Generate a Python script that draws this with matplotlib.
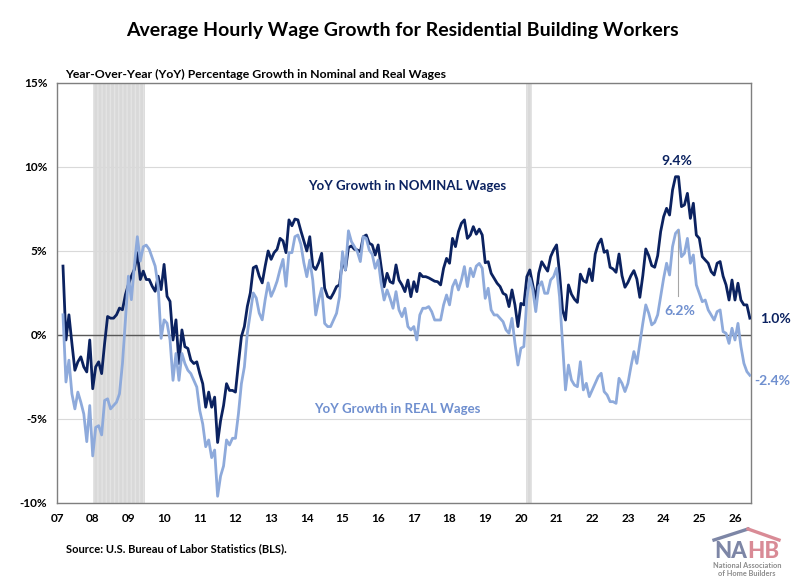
import numpy as np, matplotlib; matplotlib.use("Agg")
import matplotlib.pyplot as plt

plt.rcParams['font.family'] = ['Lato', 'DejaVu Sans']

# monthly YoY % growth, Mar 2007 .. Jun 2026
start_month = 2  # months after Jan 2007
nominal = [
    4.1, -0.3, 1.2, -0.5, -2.1, -1.6, -1.3, -1.9, -2.2, -0.3,                 # 2007 (Mar-Dec)
    -3.2, -1.9, -1.6, -2.3, -0.5, 1.1, 1.0, 1.0, 1.2, 1.6, 1.5, 2.4,          # 2008
    3.0, 3.5, 3.9, 4.9, 3.3, 3.8, 3.3, 3.3, 2.9, 2.6, 3.5, 2.7,               # 2009
    4.2, 2.3, 2.0, -0.3, 0.9, -1.7, 0.3, -0.7, -0.8, -1.5, -1.7, -1.6,        # 2010
    -2.3, -2.9, -4.3, -3.4, -4.3, -3.7, -6.4, -5.1, -4.2, -2.9, -3.3, -3.3,   # 2011
    -3.4, -1.7, -0.1, 0.5, 1.7, 2.5, 4.0, 4.1, 3.5, 3.1, 4.1, 5.0,            # 2012
    4.5, 4.9, 5.1, 5.75, 5.6, 4.9, 6.85, 6.5, 6.9, 6.85, 6.2, 5.6,            # 2013
    5.0, 5.85, 4.1, 3.9, 4.3, 4.86, 2.78, 2.28, 2.18, 2.5, 2.88, 2.98,        # 2014
    4.5, 3.87, 5.2, 5.3, 5.1, 5.06, 4.96, 5.85, 5.95, 5.46, 5.36, 4.76,       # 2015
    5.36, 4.07, 2.87, 3.67, 3.17, 3.08, 4.17, 3.27, 2.98, 2.58, 3.27, 2.28,   # 2016
    3.17, 2.58, 3.67, 3.47, 3.47, 3.4, 3.3, 3.2, 3.17, 2.98, 3.97, 4.56,      # 2017
    4.27, 5.75, 5.26, 6.15, 6.65, 6.85, 5.75, 5.95, 6.45, 6.0, 6.3, 5.95,     # 2018
    4.3, 4.36, 3.67, 3.37, 3.08, 2.88, 2.48, 2.38, 1.69, 2.68, 1.79, 0.5,     # 2019
    1.88, 1.79, 3.47, 3.87, 2.98, 2.08, 3.67, 4.36, 4.07, 3.8, 4.66, 5.06,    # 2020
    5.36, 3.67, 1.49, 0.89, 2.98, 2.43, 2.13, 1.94, 3.62, 3.23, 3.13, 3.93,   # 2021
    3.23, 4.82, 5.42, 5.71, 4.92, 5.02, 4.03, 3.93, 3.73, 4.82, 3.53, 2.84,   # 2022
    3.13, 3.53, 3.83, 3.33, 2.24, 3.53, 5.12, 4.72, 4.13, 4.03, 4.72, 6.15,   # 2023
    7.04, 7.54, 7.14, 8.63, 9.42, 9.42, 7.64, 7.74, 8.43, 6.94, 7.84, 5.95,   # 2024
    5.75, 4.66, 4.46, 4.27, 3.77, 3.57, 4.27, 4.37, 3.5, 2.98, 2.08, 3.27,    # 2025
    2.08, 3.08, 2.08, 1.79, 1.79, 1.0,                                        # 2026
]
real = [
    1.2, -2.8, -1.5, -3.5, -4.4, -3.4, -4.0, -4.7, -6.35, -4.2,
    -7.2, -5.5, -5.4, -5.95, -3.9, -3.8, -4.4, -4.2, -4.0, -3.5, -1.7, 0.9,
    3.5, 2.1, 4.1, 5.85, 4.4, 5.25, 5.35, 5.1, 4.6, 4.1, 2.9, -0.2,
    0.9, 0.7, -0.3, -2.7, -1.1, -2.7, -1.1, -1.7, -2.1, -2.3, -2.7, -3.1,
    -4.5, -5.3, -6.65, -6.25, -7.3, -6.85, -9.6, -8.4, -7.8, -6.25, -6.55, -6.15,
    -6.15, -4.7, -2.9, -1.9, 0.1, 1.3, 2.5, 2.2, 1.3, 0.9, 2.1, 3.1,
    2.3, 2.7, 3.2, 3.9, 4.5, 2.9, 4.9, 4.9, 5.85, 5.95, 5.4, 4.3,
    3.47, 4.46, 3.27, 1.19, 2.08, 2.78, 0.69, 0.5, 0.5, 0.9, 1.29, 2.28,
    4.96, 3.87, 6.2, 5.56, 5.26, 4.96, 4.37, 5.85, 5.75, 5.06, 4.8, 3.97,
    4.46, 3.08, 2.08, 2.68, 2.18, 1.59, 2.58, 1.49, 1.09, 1.59, 0.5, 0.3,
    0.5, -0.3, 1.19, 1.59, 1.59, 1.69, 1.39, 0.89, 0.89, 0.89, 1.79, 2.38,
    1.79, 2.88, 3.27, 2.68, 3.27, 4.07, 2.88, 3.97, 3.47, 4.1, 4.26, 3.97,
    2.18, 2.78, 1.49, 1.19, 1.19, 0.99, 0.79, 0.3, 0.1, 0.99, -0.5, -1.79,
    -0.79, -0.69, 2.18, 3.37, 2.68, 1.39, 2.88, 3.17, 2.48, 2.48, 3.27, 3.47,
    3.97, 2.28, -0.5, -3.27, -1.79, -2.68, -2.98, -3.08, -1.59, -3.27, -2.88, -3.67,
    -3.27, -2.88, -2.48, -2.28, -3.37, -3.57, -3.97, -3.97, -4.07, -2.58, -2.88, -3.37,
    -2.88, -1.89, -0.99, -1.69, -0.5, 0.69, 1.79, 1.29, 0.6, 0.75, 1.2, 2.28,
    3.37, 4.27, 3.57, 5.26, 6.05, 6.25, 4.66, 4.86, 5.75, 4.27, 4.76, 2.98,
    2.48, 1.98, 2.08, 1.49, 1.19, 0.89, 1.39, 1.49, 0.2, 0.1, -0.5, 0.4,
    -0.3, 0.69, -0.69, -1.69, -2.18, -2.4,
]
recessions = [(2008.0, 2009.47), (2020.14, 2020.30)]
years = list(range(2007, 2027))
year_labels = [f"{y % 100:02d}" for y in years]
yticks = [-10, -5, 0, 5, 10, 15]

x = 2007 + (start_month + np.arange(len(nominal))) / 12.0
nominal = np.array(nominal); real = np.array(real)

NAVY = "#0b2260"; LIGHT = "#8eaadb"; LTXT = "#6f8fcf"

fig = plt.figure(figsize=(8, 5.81), dpi=100)
ax = fig.add_axes([0.0713, 0.1343, 0.8675, 0.7229])

for a, b in recessions:
    ax.axvspan(a, b, facecolor="#d9d9d9", edgecolor="#e4e4e4", hatch="||||", lw=0, zorder=0)
for v in yticks:
    ax.axhline(v, color="#d9d9d9", lw=0.8, zorder=1)
ax.axhline(0, color="#595959", lw=1.0, zorder=2)

ax.plot(x, nominal, color=NAVY, lw=2.0, zorder=3, solid_joinstyle="round")
ax.plot(x, real, color=LIGHT, lw=2.0, zorder=4, solid_joinstyle="round")

ax.set_xlim(2007, 2007 + 233.4 / 12)
ax.set_ylim(-10, 15)
ax.set_xticks(years); ax.set_xticklabels(year_labels)
ax.set_yticks(yticks); ax.set_yticklabels([f"{v}%" for v in yticks])
ax.tick_params(length=0, labelsize=8.5, pad=7)
for lab in ax.get_xticklabels() + ax.get_yticklabels():
    lab.set_fontweight("bold")
for s in ax.spines.values():
    s.set_color("#7f7f7f"); s.set_linewidth(1.0)

# annotations (latest cycle peak)
recent = x >= 2023
ipk = int(np.argmax(np.where(recent, nominal, -99)))
ipr = int(np.argmax(np.where(recent, real, -99)))
ax.text(x[ipk] + 0.03, nominal[ipk] + 0.55, f"{nominal[ipk]:.1f}%", color=NAVY,
        fontsize=10, fontweight="bold", ha="center", va="bottom")
ax.plot([x[ipr], x[ipr]], [real[ipr], 2.3], color="#a6a6a6", lw=0.8, zorder=5)
ax.text(x[ipr] + 0.03, 1.45, f"{real[ipr]:.1f}%", color=LTXT,
        fontsize=10, fontweight="bold", ha="center", va="center")
ax.text(x[-1] + 0.28, nominal[-1] - 0.05, f"{nominal[-1]:.1f}%", color=NAVY,
        fontsize=10, fontweight="bold", ha="left", va="center", clip_on=False)
ax.text(x[-1] + 0.12, real[-1] - 0.35, f"{real[-1]:.1f}%", color=LTXT,
        fontsize=10, fontweight="bold", ha="left", va="center", clip_on=False)
ax.text(2016.8, 8.85, "YoY Growth in NOMINAL Wages", color=NAVY, fontsize=9.5,
        fontweight="bold", ha="center", va="center")
ax.text(2016.55, -4.4, "YoY Growth in REAL Wages", color=LTXT, fontsize=9.5,
        fontweight="bold", ha="center", va="center")

fig.text(0.503, 0.948, "Average Hourly Wage Growth for Residential Building Workers",
         fontsize=14, fontweight="bold", ha="center", va="center")
fig.text(0.082, 0.871, "Year-Over-Year (YoY) Percentage Growth in Nominal and Real Wages",
         fontsize=8.8, fontweight="bold", ha="left", va="center")
fig.text(0.082, 0.055, "Source: U.S. Bureau of Labor Statistics (BLS).",
         fontsize=8, fontweight="bold", ha="left", va="center")

# NAHB logo
W, H = 800, 581
fig.add_artist(plt.Line2D([714 / W, 748 / W], [1 - 540 / H, 1 - 529 / H], color="#7d86a6", lw=2.4))
fig.add_artist(plt.Line2D([748 / W, 779 / W], [1 - 529 / H, 1 - 540 / H], color="#d98b96", lw=2.4))
fig.text(747 / W, 1 - 551 / H, "NA", color="#7d86a6", fontsize=16, fontweight="black",
         ha="right", va="center")
fig.text(747 / W, 1 - 551 / H, "HB", color="#d98b96", fontsize=16, fontweight="black",
         ha="left", va="center")
fig.text(747 / W, 1 - 565 / H, "National Association", color="#8c8c8c", fontsize=5.3,
         fontweight="bold", ha="center", va="center")
fig.text(747 / W, 1 - 573 / H, "of Home Builders", color="#8c8c8c", fontsize=5.3,
         fontweight="bold", ha="center", va="center")

fig.savefig("out.png", dpi=100)
